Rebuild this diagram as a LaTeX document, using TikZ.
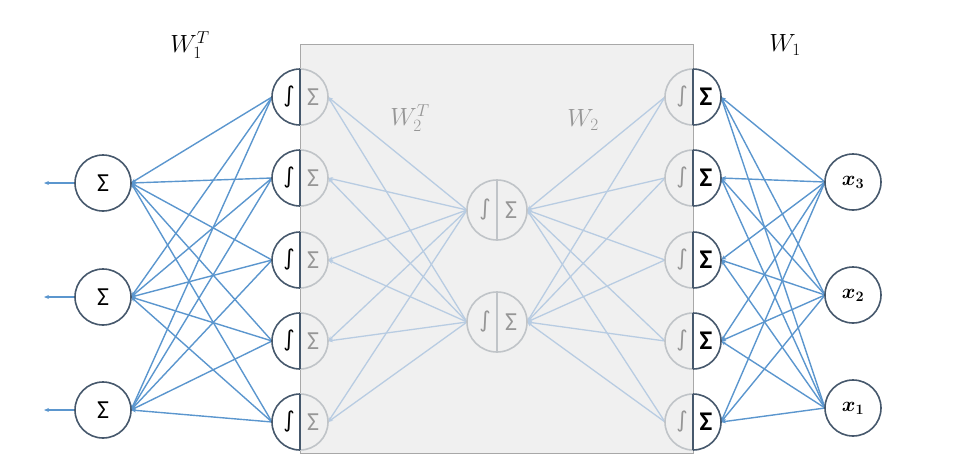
\documentclass[tikz,border=0pt]{standalone}
\usepackage{bm}
\usepackage{fontspec}
\setmainfont{Carlito}
\newfontfamily\symfont{DejaVu Sans}
\usetikzlibrary{arrows.meta,calc}
\definecolor{edgeblue}{RGB}{91,150,206}
\definecolor{edgelight}{RGB}{184,204,226}
\definecolor{nodedark}{RGB}{70,88,108}
\definecolor{nodelight}{RGB}{192,196,200}
\definecolor{boxfill}{RGB}{240,240,240}
\definecolor{boxline}{RGB}{168,168,168}
\definecolor{graytext}{RGB}{150,150,150}
\begin{document}
\begin{tikzpicture}[x=1pt,y=1pt,
  nd/.style={circle, minimum size=56pt, inner sep=0pt, outer sep=0pt},
  ndm/.style={circle, minimum size=60pt, inner sep=0pt, outer sep=0pt},
  dk/.style={draw=nodedark, line width=1.6pt},
  lt/.style={draw=nodelight, line width=1.6pt},
  blueedge/.style={draw=edgeblue, line width=1.4pt},
  lightedge/.style={draw=edgelight, line width=1.3pt},
  tip/.style={-{Stealth[length=5pt,width=4pt]}},
  sig/.style={font=\fontsize{26}{28}\selectfont},
  sigb/.style={font=\fontsize{27}{29}\selectfont\bfseries},
  int/.style={font=\symfont\fontsize{22}{24}\selectfont},
  wlab/.style={font=\fontsize{27}{29}\selectfont}
]
\useasboundingbox (0,0) rectangle (975,-475);
\fill[boxfill] (300,-44) rectangle (693,-453);
\draw[boxline, line width=1pt] (300,-44) rectangle (693,-453);

% node placements
\foreach \j/\y in {1/97,2/178,3/260,4/341,5/422}{
  \node[nd] (L\j) at (300,-\y) {};
  \node[nd] (R\j) at (693,-\y) {};
}
\foreach \i/\y in {1/183,2/297,3/410}{
  \node[nd] (S\i) at (103,-\y) {};
  \coordinate (O\i) at (44,-\y);
}
\foreach \i/\y in {3/182,2/295,1/408}{
  \node[nd] (X\i) at (853,-\y) {};
}
\node[ndm] (M1) at (497,-210) {};
\node[ndm] (M2) at (497,-322) {};

% edges
\foreach \i in {1,2,3}{
  \foreach \j in {1,...,5}{
    \draw[blueedge,tip] (L\j.west) -- (S\i.east);
    \draw[blueedge,tip] (X\i.west) -- (R\j.east);
  }
  \draw[blueedge,tip] (S\i.west) -- (O\i);
}
\foreach \i in {1,2}{
  \foreach \j in {1,...,5}{
    \draw[lightedge,tip] (M\i.west) -- (L\j.east);
    \draw[lightedge,tip] (R\j.west) -- (M\i.east);
  }
}

% left sum nodes and inputs
\foreach \i in {1,2,3}{
  \draw[dk] (S\i) circle[radius=28pt];
  \node[sig] at (S\i) {Σ};
  \draw[dk] (X\i) circle[radius=28pt];
}
\node at (X3) {\fontsize{22}{24}\selectfont$\bm{x}_{\bm{3}}$};
\node at (X2) {\fontsize{22}{24}\selectfont$\bm{x}_{\bm{2}}$};
\node at (X1) {\fontsize{22}{24}\selectfont$\bm{x}_{\bm{1}}$};

% split nodes
\foreach \j in {1,...,5}{
  \draw[dk] (L\j.north) arc[start angle=90, end angle=270, radius=28pt];
  \draw[lt] (L\j.south) arc[start angle=-90, end angle=90, radius=28pt];
  \draw[dk] (L\j.north) -- (L\j.south);
  \node[int] at ($(L\j)+(-11,0)$) {∫};
  \node[sig, text=graytext] at ($(L\j)+(13,0)$) {Σ};
  \draw[lt] (R\j.north) arc[start angle=90, end angle=270, radius=28pt];
  \draw[dk] (R\j.south) arc[start angle=-90, end angle=90, radius=28pt];
  \draw[dk] (R\j.north) -- (R\j.south);
  \node[int, text=graytext] at ($(R\j)+(-11,0)$) {∫};
  \node[sigb] at ($(R\j)+(13,0)$) {Σ};
}
\foreach \i in {1,2}{
  \draw[lt] (M\i) circle[radius=30pt];
  \draw[lt] (M\i.north) -- (M\i.south);
  \node[int, text=graytext] at ($(M\i)+(-12,0)$) {∫};
  \node[sig, text=graytext] at ($(M\i)+(14,0)$) {Σ};
}

% labels
\node[wlab] (lw1t) at (190,-45) {$W_1^T$};
\node[wlab] (lw1) at (785,-45) {$W_1$};
\node[wlab, text=graytext] (lw2t) at (410,-118) {$W_2^T$};
\node[wlab, text=graytext] (lw2) at (583,-120) {$W_2$};
\end{tikzpicture}
\end{document}
